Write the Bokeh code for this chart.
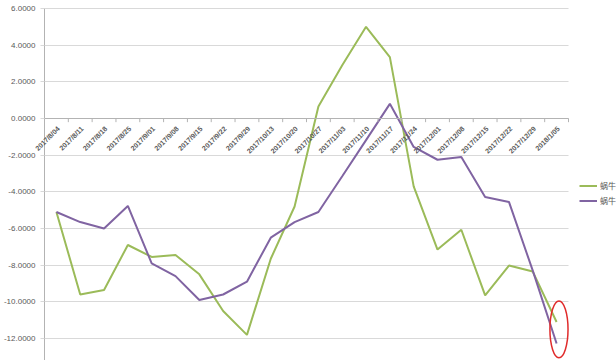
from bokeh.plotting import figure
from bokeh.models import (Range1d, FixedTicker, PrintfTickFormatter,
                          Legend, LegendItem, ColumnDataSource, Label)
from bokeh.embed import file_html
from bokeh.resources import INLINE

categories = ["2017/8/04", "2017/8/11", "2017/8/18", "2017/8/25", "2017/9/01",
              "2017/9/08", "2017/9/15", "2017/9/22", "2017/9/29", "2017/10/13",
              "2017/10/20", "2017/10/27", "2017/11/03", "2017/11/10", "2017/11/17",
              "2017/11/24", "2017/12/01", "2017/12/08", "2017/12/15", "2017/12/22",
              "2017/12/29", "2018/1/05"]
series_green = [-5.1, -9.6, -9.35, -6.9, -7.55, -7.45, -8.5, -10.5, -11.8, -7.65,
                -4.8, 0.65, 2.9, 5.0, 3.35, -3.7, -7.15, -6.07, -9.65, -8.02,
                -8.35, -11.1]
series_purple = [-5.1, -5.65, -6.0, -4.77, -7.9, -8.6, -9.9, -9.6, -8.9, -6.5,
                 -5.65, -5.1, -3.15, -1.18, 0.8, -1.55, -2.25, -2.1, -4.28, -4.55,
                 -8.3, -12.27]
series_names = ["蜗牛", "蜗牛"]
y_ticks = [-12, -10, -8, -6, -4, -2, 0, 2, 4, 6]
highlight_index = len(categories) - 1
highlight_y = -11.5

GREEN = "#9bbb59"
PURPLE = "#8064a2"
GRID = "#d9d9d9"
AXIS = "#b3b3b3"
TEXT = "#595959"

# layout: whole figure is the frame; axes are drawn at fixed data locations
W, H = 616, 360
PLOT_LEFT, PLOT_TOP, PLOT_W = 44, 8, 524      # where the category area sits
PX_PER_CAT = PLOT_W / len(categories)
PX_PER_UNIT = (H - PLOT_TOP) / (max(y_ticks) + 13.2)
x0 = -0.5 - PLOT_LEFT / PX_PER_CAT
y1 = max(y_ticks) + PLOT_TOP / PX_PER_UNIT
x_axis_start, x_axis_end = -0.5, len(categories) - 0.5

idx = list(range(len(categories)))

p = figure(x_range=Range1d(x0, x0 + W / PX_PER_CAT),
           y_range=Range1d(y1 - H / PX_PER_UNIT, y1),
           frame_width=W, frame_height=H,
           output_backend="svg", toolbar_location=None,
           min_border_left=0, min_border_top=0, min_border_bottom=0,
           min_border_right=0)
p.outline_line_color = None
p.background_fill_color = "white"

# y axis at the left edge of the category area
p.yaxis.fixed_location = x_axis_start
p.yaxis.bounds = (y1 - H / PX_PER_UNIT, max(y_ticks))
p.yaxis.ticker = FixedTicker(ticks=y_ticks)
p.yaxis.formatter = PrintfTickFormatter(format="%.4f")
p.yaxis.axis_line_color = AXIS
p.yaxis.major_tick_line_color = GRID
p.yaxis.major_tick_out = 4
p.yaxis.major_tick_in = 0
p.yaxis.minor_tick_line_color = None
p.yaxis.major_label_text_font = "Liberation Sans"
p.yaxis.major_label_text_font_size = "8px"
p.yaxis.major_label_text_color = TEXT
p.yaxis.major_label_standoff = 5

ygrid = p.ygrid[0]
ygrid.ticker = FixedTicker(ticks=y_ticks)
ygrid.grid_line_color = GRID
if "cross_bounds" in ygrid.properties():
    ygrid.cross_bounds = (x_axis_start, x_axis_end)
p.xgrid.grid_line_color = None

# x axis line at y = 0
p.xaxis.fixed_location = 0
p.xaxis.bounds = (x_axis_start, x_axis_end)
p.xaxis.ticker = FixedTicker(ticks=[])
p.xaxis.axis_line_color = AXIS
p.xaxis.major_tick_line_color = None
p.xaxis.minor_tick_line_color = None
p.xaxis.major_label_text_color = None
p.xaxis.major_label_text_font_size = "1px"

src = ColumnDataSource(dict(x=idx, g=series_green, v=series_purple))
rg = p.line("x", "g", source=src, line_color=GREEN, line_width=2)
rp = p.line("x", "v", source=src, line_color=PURPLE, line_width=2)

# category boundary tick marks on the zero axis
bounds = [i - 0.5 for i in idx] + [idx[-1] + 0.5]
p.segment(x0=bounds, y0=[0] * len(bounds), x1=bounds, y1=[-0.2] * len(bounds),
          line_color=AXIS, line_width=1)

p.ellipse(x=[highlight_index + 0.1], y=[highlight_y], width=0.76, height=3.1,
          fill_color=None, line_color="#e02b2b", line_width=1.5)

for i, c in zip(idx, categories):
    p.add_layout(Label(x=i, y=0, text=c, angle=0.785,
                       text_align="right", text_baseline="middle",
                       x_offset=2, y_offset=-9,
                       text_font="Liberation Sans", text_font_size="7px",
                       text_font_style="bold", text_color=TEXT))

legend = Legend(items=[LegendItem(label=series_names[0], renderers=[rg]),
                       LegendItem(label=series_names[1], renderers=[rp])],
                location=(579, 152), border_line_color=None,
                background_fill_alpha=0,
                label_text_font="Noto Sans CJK SC", label_text_font_size="8px",
                label_text_color=TEXT, glyph_width=18, glyph_height=15,
                label_height=15, label_standoff=3, spacing=0, padding=2,
                margin=0)
p.add_layout(legend)

open("out.html", "w").write(file_html(p, INLINE))
